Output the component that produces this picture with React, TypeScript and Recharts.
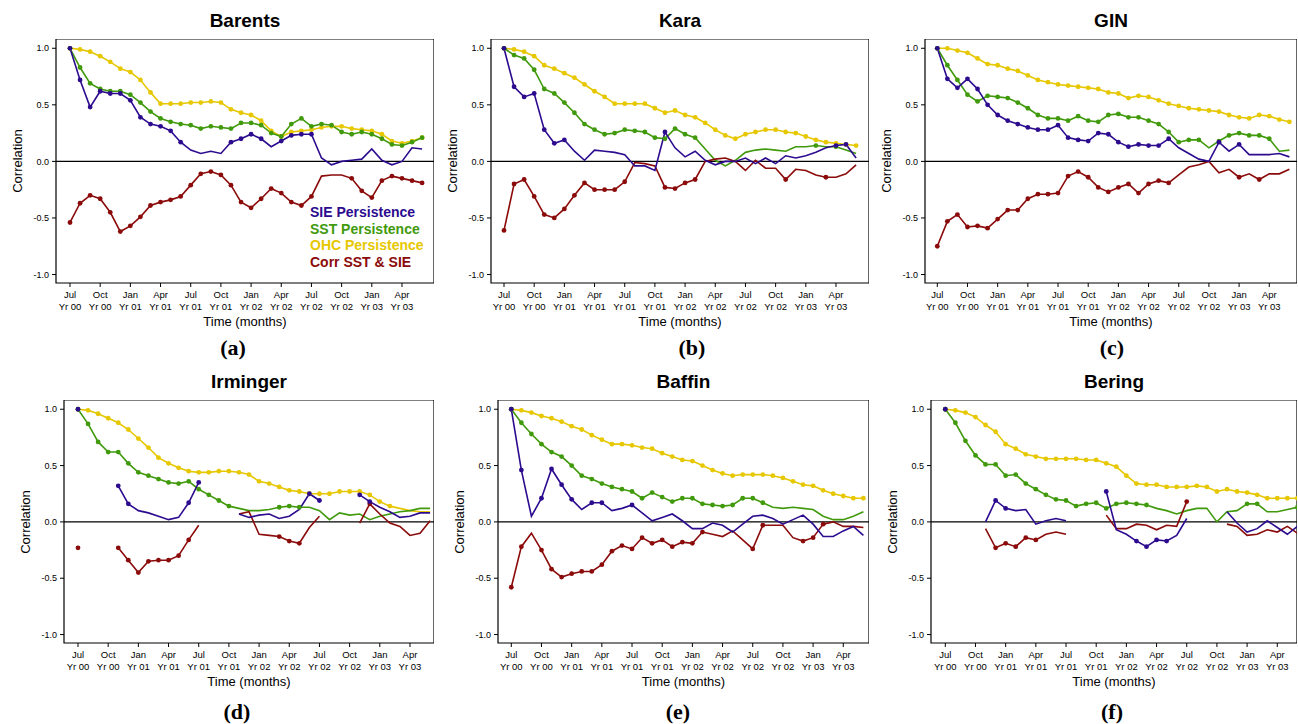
import React from 'react';
import { LineChart, Line, XAxis, YAxis, ReferenceLine, ReferenceArea } from 'recharts';

// month index from Jul Yr 00
const months = [0, 1, 2, 3, 4, 5, 6, 7, 8, 9, 10, 11, 12, 13, 14, 15, 16, 17, 18, 19, 20, 21, 22, 23, 24, 25, 26, 27, 28, 29, 30, 31, 32, 33, 34, 35];
const xTicks = [0, 3, 6, 9, 12, 15, 18, 21, 24, 27, 30, 33];
const tickMonths = ['Jul', 'Oct', 'Jan', 'Apr', 'Jul', 'Oct', 'Jan', 'Apr', 'Jul', 'Oct', 'Jan', 'Apr'];
const tickYears = ['Yr 00', 'Yr 00', 'Yr 01', 'Yr 01', 'Yr 01', 'Yr 01', 'Yr 02', 'Yr 02', 'Yr 02', 'Yr 02', 'Yr 03', 'Yr 03'];
const yTicks = [-1, -0.5, 0, 0.5, 1];

const seriesNames = ['SIE Persistence', 'SST Persistence', 'OHC Persistence', 'Corr SST & SIE'];

// Barents
const barentsOhc = [1.00, 0.99, 0.97, 0.93, 0.88, 0.82, 0.79, 0.72, 0.61, 0.51, 0.51, 0.51, 0.52, 0.52, 0.53, 0.52, 0.46, 0.43, 0.41, 0.36, 0.27, 0.22, 0.26, 0.27, 0.28, 0.30, 0.31, 0.31, 0.29, 0.28, 0.27, 0.24, 0.18, 0.16, 0.18, 0.21];
const barentsSst = [1.00, 0.83, 0.69, 0.64, 0.62, 0.62, 0.59, 0.52, 0.44, 0.38, 0.35, 0.33, 0.32, 0.29, 0.31, 0.30, 0.29, 0.34, 0.34, 0.32, 0.25, 0.22, 0.33, 0.38, 0.31, 0.33, 0.32, 0.26, 0.24, 0.26, 0.24, 0.20, 0.15, 0.14, 0.17, 0.21];
const barentsSie = [1.00, 0.72, 0.48, 0.62, 0.60, 0.60, 0.54, 0.39, 0.33, 0.31, 0.27, 0.17, 0.10, 0.07, 0.09, 0.07, 0.17, 0.20, 0.24, 0.20, 0.13, 0.18, 0.23, 0.24, 0.24, 0.03, -0.03, 0.00, 0.01, 0.02, 0.11, 0.01, -0.03, 0.00, 0.12, 0.11];
const barentsCorr = [-0.54, -0.37, -0.30, -0.33, -0.45, -0.62, -0.57, -0.49, -0.39, -0.36, -0.34, -0.31, -0.21, -0.11, -0.09, -0.12, -0.21, -0.36, -0.41, -0.33, -0.24, -0.28, -0.36, -0.39, -0.31, -0.13, -0.12, -0.12, -0.15, -0.26, -0.32, -0.17, -0.13, -0.15, -0.17, -0.19];

// Kara
const karaOhc = [1.00, 0.99, 0.97, 0.93, 0.85, 0.82, 0.78, 0.74, 0.68, 0.62, 0.57, 0.51, 0.51, 0.51, 0.51, 0.47, 0.43, 0.45, 0.41, 0.39, 0.34, 0.28, 0.23, 0.20, 0.24, 0.26, 0.28, 0.28, 0.26, 0.25, 0.22, 0.19, 0.17, 0.16, 0.15, 0.14];
const karaSst = [1.00, 0.94, 0.91, 0.81, 0.64, 0.60, 0.52, 0.43, 0.33, 0.28, 0.24, 0.25, 0.28, 0.27, 0.26, 0.21, 0.20, 0.29, 0.24, 0.21, 0.11, 0.01, -0.04, 0.01, 0.08, 0.10, 0.11, 0.10, 0.09, 0.13, 0.13, 0.14, 0.13, 0.13, 0.10, 0.07];
const karaSie = [1.00, 0.66, 0.57, 0.60, 0.28, 0.16, 0.19, 0.09, 0.01, 0.10, 0.09, 0.08, 0.06, -0.04, -0.04, -0.08, 0.26, 0.12, 0.04, 0.09, 0.01, -0.03, 0.00, 0.00, 0.03, -0.02, 0.03, -0.02, 0.05, 0.03, 0.05, 0.08, 0.12, 0.14, 0.15, 0.03];
const karaCorr = [-0.61, -0.20, -0.16, -0.31, -0.47, -0.50, -0.42, -0.30, -0.19, -0.25, -0.25, -0.25, -0.18, -0.01, -0.02, -0.04, -0.23, -0.24, -0.19, -0.16, 0.00, 0.02, 0.03, 0.00, -0.08, 0.01, -0.06, -0.06, -0.16, -0.07, -0.08, -0.12, -0.14, -0.14, -0.11, -0.03];

// GIN
const ginOhc = [1.00, 1.00, 0.98, 0.96, 0.91, 0.86, 0.85, 0.82, 0.80, 0.76, 0.72, 0.70, 0.68, 0.67, 0.66, 0.65, 0.64, 0.61, 0.60, 0.56, 0.58, 0.57, 0.54, 0.51, 0.49, 0.47, 0.46, 0.45, 0.44, 0.41, 0.39, 0.38, 0.41, 0.40, 0.37, 0.35];
const ginSst = [1.00, 0.85, 0.72, 0.59, 0.53, 0.58, 0.57, 0.56, 0.52, 0.47, 0.41, 0.38, 0.38, 0.36, 0.40, 0.36, 0.35, 0.41, 0.42, 0.39, 0.39, 0.36, 0.33, 0.26, 0.17, 0.19, 0.19, 0.12, 0.18, 0.23, 0.25, 0.23, 0.23, 0.20, 0.09, 0.10];
const ginSie = [1.00, 0.73, 0.65, 0.73, 0.64, 0.50, 0.41, 0.36, 0.33, 0.30, 0.28, 0.28, 0.32, 0.21, 0.19, 0.18, 0.25, 0.24, 0.17, 0.13, 0.15, 0.14, 0.14, 0.20, 0.12, 0.07, 0.02, 0.00, 0.17, 0.09, 0.15, 0.06, 0.06, 0.06, 0.07, 0.04];
const ginCorr = [-0.75, -0.53, -0.47, -0.58, -0.57, -0.59, -0.51, -0.43, -0.43, -0.33, -0.29, -0.29, -0.28, -0.13, -0.09, -0.14, -0.23, -0.27, -0.23, -0.20, -0.28, -0.20, -0.17, -0.19, -0.12, -0.05, -0.03, 0.00, -0.10, -0.07, -0.14, -0.11, -0.16, -0.11, -0.11, -0.07];

// Irminger
const irmOhc = [1.00, 0.99, 0.96, 0.92, 0.88, 0.82, 0.74, 0.66, 0.57, 0.52, 0.48, 0.45, 0.44, 0.44, 0.45, 0.45, 0.44, 0.42, 0.36, 0.34, 0.31, 0.28, 0.27, 0.25, 0.25, 0.25, 0.27, 0.27, 0.27, 0.24, 0.18, 0.14, 0.12, 0.10, 0.09, 0.09];
const irmSst = [1.00, 0.87, 0.71, 0.62, 0.62, 0.52, 0.44, 0.41, 0.38, 0.35, 0.34, 0.36, 0.29, 0.24, 0.19, 0.14, 0.12, 0.10, 0.10, 0.11, 0.13, 0.14, 0.13, 0.13, 0.10, 0.02, 0.08, 0.06, 0.07, 0.02, 0.05, 0.07, 0.09, 0.10, 0.12, 0.12];
const irmSie = [1.00, null, null, null, 0.32, 0.16, 0.10, 0.08, 0.05, 0.02, 0.04, 0.17, 0.35, null, null, null, 0.07, 0.04, 0.06, 0.07, 0.03, 0.05, 0.11, 0.25, 0.19, null, null, null, 0.24, 0.18, 0.13, 0.09, 0.04, 0.05, 0.08, 0.08];
const irmCorr = [-0.23, null, null, null, -0.23, -0.34, -0.45, -0.35, -0.34, -0.34, -0.30, -0.16, -0.03, null, null, null, 0.07, 0.09, -0.11, -0.12, -0.13, -0.17, -0.19, -0.05, 0.05, null, null, null, -0.01, 0.16, 0.07, -0.01, -0.04, -0.12, -0.10, 0.01];

// Baffin
const bafOhc = [1.00, 0.99, 0.97, 0.94, 0.92, 0.89, 0.85, 0.82, 0.77, 0.73, 0.69, 0.69, 0.68, 0.66, 0.65, 0.61, 0.58, 0.55, 0.54, 0.50, 0.46, 0.43, 0.41, 0.42, 0.42, 0.42, 0.41, 0.39, 0.36, 0.33, 0.32, 0.28, 0.25, 0.23, 0.21, 0.21];
const bafSst = [1.00, 0.88, 0.78, 0.69, 0.62, 0.58, 0.50, 0.41, 0.38, 0.34, 0.31, 0.29, 0.27, 0.21, 0.26, 0.22, 0.18, 0.21, 0.21, 0.16, 0.15, 0.14, 0.15, 0.21, 0.21, 0.17, 0.13, 0.12, 0.13, 0.12, 0.11, 0.05, 0.02, 0.02, 0.05, 0.09];
const bafSie = [1.00, 0.46, 0.05, 0.21, 0.47, 0.33, 0.20, 0.11, 0.17, 0.17, 0.10, 0.12, 0.15, 0.08, 0.01, 0.04, 0.07, 0.01, -0.06, -0.06, -0.01, -0.03, -0.09, -0.02, 0.05, 0.06, 0.03, -0.02, 0.02, 0.06, -0.02, -0.13, -0.13, -0.08, -0.04, -0.12];
const bafCorr = [-0.58, -0.22, -0.10, -0.25, -0.42, -0.49, -0.46, -0.44, -0.44, -0.38, -0.26, -0.21, -0.24, -0.14, -0.19, -0.16, -0.22, -0.18, -0.19, -0.09, -0.11, -0.13, -0.08, -0.16, -0.24, -0.03, -0.03, -0.03, -0.14, -0.17, -0.14, -0.02, 0.00, -0.04, -0.04, -0.05];

// Bering
const berOhc = [1.00, 0.99, 0.97, 0.93, 0.86, 0.80, 0.69, 0.65, 0.60, 0.58, 0.56, 0.56, 0.56, 0.56, 0.55, 0.55, 0.52, 0.49, 0.41, 0.34, 0.33, 0.33, 0.31, 0.31, 0.31, 0.32, 0.31, 0.27, 0.29, 0.27, 0.26, 0.24, 0.21, 0.21, 0.21, 0.21];
const berSst = [1.00, 0.88, 0.72, 0.59, 0.51, 0.51, 0.41, 0.42, 0.34, 0.29, 0.24, 0.20, 0.19, 0.14, 0.16, 0.17, 0.12, 0.16, 0.17, 0.16, 0.15, 0.12, 0.10, 0.07, 0.10, 0.12, 0.12, 0.00, 0.09, 0.10, 0.16, 0.16, 0.09, 0.09, 0.11, 0.13];
const berSie = [1.00, null, null, null, 0.00, 0.19, 0.12, 0.10, 0.11, -0.02, 0.01, 0.03, 0.01, null, null, null, 0.27, -0.07, -0.11, -0.17, -0.22, -0.16, -0.17, -0.12, 0.03, null, null, null, 0.09, -0.01, -0.09, -0.06, 0.01, -0.05, -0.11, -0.04];
const berCorr = [null, null, null, null, -0.06, -0.23, -0.19, -0.22, -0.14, -0.16, -0.11, -0.09, -0.11, null, null, null, 0.06, -0.06, -0.06, -0.02, -0.03, -0.07, -0.03, -0.04, 0.18, null, null, null, -0.02, -0.04, -0.12, -0.11, -0.07, -0.09, -0.04, -0.10];

// which points carry a marker (significant), one char per month
const ALL = '111111111111111111111111111111111111';
const barentsSieDots = '111111111111000011110111100000000000';
const barentsCorrDots = '111111111111111111111111100011111111';
const karaSstDots = '111111111111111111110000000000010100';
const karaSieDots = '111111100000000010000000000000000110';
const karaCorrDots = '111111111111100011110000000010001000';
const ginSstDots = '111111111111111111111111111011111100';
const ginSieDots = '111111111111111111111111000010100000';
const ginCorrDots = '111111111111111111111111000000101000';
const irmOhcDots = '111111111111111111111111111111110000';
const irmSstDots = '111111111111111100001110000000000000';
const irmSieDots = '100011000001100000000001100011000000';
const irmCorrDots = '100011111111000000001110000001000000';
const bafSstDots = '111111111111111111111111110000000000';
const bafSieDots = '110111101100100000000000000000000000';
const bafCorrDots = '110111111111111111110000110001110000';
const berSstDots = '111111111111111111111000000000110001';
const berSieDots = '100001100000000010011110000000000000';
const berCorrDots = '000001111100000000000000100000000000';

const COLORS = { sie: '#2c0b8f', sst: '#409a0c', ohc: '#e6c700', corr: '#8b0a0a' };
const FONT = '"Liberation Sans", Arial, Helvetica, sans-serif';
const PPM = 10.06; // px per month
const Y_DOMAIN = [-1.075, 1.082];

const panels = [
  { name: 'Barents', cap: '(a)', left: 56, width: 378, x0: 70, top: 39, height: 244, capX: 233, ohc: barentsOhc, sst: barentsSst, sie: barentsSie, corr: barentsCorr, dOhc: ALL, dSst: ALL, dSie: barentsSieDots, dCorr: barentsCorrDots, legend: true },
  { name: 'Kara', cap: '(b)', left: 491, width: 378, x0: 504, top: 39, height: 244, capX: 692, ohc: karaOhc, sst: karaSst, sie: karaSie, corr: karaCorr, dOhc: ALL, dSst: karaSstDots, dSie: karaSieDots, dCorr: karaCorrDots },
  { name: 'GIN', cap: '(c)', left: 925, width: 372, x0: 937.3, top: 39, height: 244, capX: 1112, ohc: ginOhc, sst: ginSst, sie: ginSie, corr: ginCorr, dOhc: ALL, dSst: ginSstDots, dSie: ginSieDots, dCorr: ginCorrDots },
  { name: 'Irminger', cap: '(d)', left: 64, width: 370, x0: 78, top: 400, height: 243, capX: 237, ohc: irmOhc, sst: irmSst, sie: irmSie, corr: irmCorr, dOhc: irmOhcDots, dSst: irmSstDots, dSie: irmSieDots, dCorr: irmCorrDots },
  { name: 'Baffin', cap: '(e)', left: 498, width: 371, x0: 511.3, top: 400, height: 243, capX: 678, ohc: bafOhc, sst: bafSst, sie: bafSie, corr: bafCorr, dOhc: ALL, dSst: bafSstDots, dSie: bafSieDots, dCorr: bafCorrDots },
  { name: 'Bering', cap: '(f)', left: 931, width: 366, x0: 945.3, top: 400, height: 243, capX: 1112, ohc: berOhc, sst: berSst, sie: berSie, corr: berCorr, dOhc: ALL, dSst: berSstDots, dSie: berSieDots, dCorr: berCorrDots },
];

const XTick = (props: any) => {
  const { x, y, payload } = props;
  const i = xTicks.indexOf(payload.value);
  return (
    <g transform={`translate(${x},${y})`}>
      <text textAnchor="middle" fontSize={9.5} fill="#000" fontFamily={FONT}>
        <tspan x={0} dy={9}>{tickMonths[i]}</tspan>
        <tspan x={0} dy={12}>{tickYears[i]}</tspan>
      </text>
    </g>
  );
};

const makeDot = (mask: string, color: string, id: string) => (props: any) => {
  const { cx, cy, index, value } = props;
  if (value == null || cy == null || mask[index] !== '1') return <g key={`${id}-${index}`} />;
  return <circle key={`${id}-${index}`} cx={cx} cy={cy} r={2.4} fill={color} stroke="none" />;
};

const Panel = ({ p }: any) => {
  const rows = months.map((m, i) => ({ m, ohc: p.ohc[i], sst: p.sst[i], sie: p.sie[i], corr: p.corr[i] }));
  const lo = -(p.x0 - p.left) / PPM;
  const hi = lo + p.width / PPM;
  const cx = p.left + p.width / 2;
  const bottom = p.top + p.height;
  const isTop = p.top < 200;

  return (
    <>
      <div style={{ position: 'absolute', left: p.left, width: p.width, top: p.top - 30, textAlign: 'center', fontFamily: FONT, fontWeight: 'bold', fontSize: 19, lineHeight: '24px' }}>
        {p.name}
      </div>
      <div style={{ position: 'absolute', left: p.left - 40, top: p.top }}>
        <LineChart width={p.width + 40} height={p.height + 36} data={rows} margin={{ top: 0, right: 0, bottom: 0, left: 0 }}>
          <XAxis
            type="number"
            dataKey="m"
            domain={[lo, hi]}
            ticks={xTicks}
            interval={0}
            allowDataOverflow
            height={36}
            axisLine={false}
            tickLine={{ stroke: '#000' }}
            tickSize={4}
            tick={<XTick />}
          />
          <YAxis
            type="number"
            domain={Y_DOMAIN}
            ticks={yTicks}
            allowDataOverflow
            width={40}
            axisLine={false}
            tickLine={{ stroke: '#000' }}
            tickSize={4}
            tickMargin={3}
            tick={{ fontSize: 9, fill: '#000', fontFamily: FONT }}
            tickFormatter={(v: number) => v.toFixed(1)}
          />
          <ReferenceArea x1={lo} x2={hi} y1={Y_DOMAIN[0]} y2={Y_DOMAIN[1]} fill="none" fillOpacity={0} stroke="#000" strokeWidth={1.2} ifOverflow="visible" />
          <ReferenceLine y={0} stroke="#000" strokeWidth={1.2} />
          <Line dataKey="ohc" stroke={COLORS.ohc} strokeWidth={1.6} dot={makeDot(p.dOhc, COLORS.ohc, 'o')} isAnimationActive={false} />
          <Line dataKey="sst" stroke={COLORS.sst} strokeWidth={1.6} dot={makeDot(p.dSst, COLORS.sst, 's')} isAnimationActive={false} />
          <Line dataKey="corr" stroke={COLORS.corr} strokeWidth={1.6} dot={makeDot(p.dCorr, COLORS.corr, 'c')} isAnimationActive={false} />
          <Line dataKey="sie" stroke={COLORS.sie} strokeWidth={1.6} dot={makeDot(p.dSie, COLORS.sie, 'i')} isAnimationActive={false} />
        </LineChart>
      </div>
      <div style={{ position: 'absolute', left: p.left - 38 - 60, top: p.top + p.height / 2 - 8, width: 120, height: 16, textAlign: 'center', fontFamily: FONT, fontSize: 13, lineHeight: '16px', transform: 'rotate(-90deg)' }}>
        Correlation
      </div>
      <div style={{ position: 'absolute', left: cx - 100, width: 200, top: bottom + 31, textAlign: 'center', fontFamily: FONT, fontSize: 13, lineHeight: '16px' }}>
        Time (months)
      </div>
      <div style={{ position: 'absolute', left: p.capX - 40, width: 80, top: bottom + (isTop ? 52 : 56), textAlign: 'center', fontFamily: '"Liberation Serif", "Times New Roman", serif', fontWeight: 'bold', fontSize: 22, lineHeight: '26px' }}>
        {p.cap}
      </div>
      {p.legend && (
        <div style={{ position: 'absolute', left: 310, top: 204, fontFamily: FONT, fontWeight: 'bold', fontSize: 14, lineHeight: '16.7px' }}>
          <div style={{ color: COLORS.sie }}>{seriesNames[0]}</div>
          <div style={{ color: COLORS.sst }}>{seriesNames[1]}</div>
          <div style={{ color: COLORS.ohc }}>{seriesNames[2]}</div>
          <div style={{ color: COLORS.corr }}>{seriesNames[3]}</div>
        </div>
      )}
    </>
  );
};

export default function App() {
  return (
    <div style={{ position: 'absolute', left: 0, top: 0, width: 1298, height: 724, background: '#fff', overflow: 'hidden' }}>
      {panels.map((p) => (
        <Panel key={p.name} p={p} />
      ))}
    </div>
  );
}
